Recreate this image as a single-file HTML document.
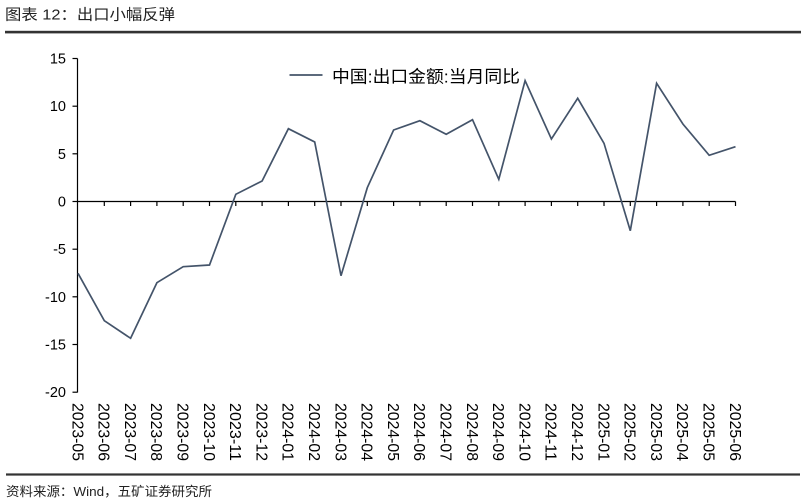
<!DOCTYPE html>
<html>
<head>
<meta charset="utf-8">
<style>
html,body{margin:0;padding:0;background:#fff;}
svg{display:block;}
text{font-family:"Liberation Sans","Noto Sans CJK SC",sans-serif;}
</style>
</head>
<body>
<svg width="806" height="503" viewBox="0 0 806 503" xmlns="http://www.w3.org/2000/svg">
  <rect width="806" height="503" fill="#fff"/>
  <!-- Title -->
  <text x="5" y="19.5" font-size="15" fill="#222" textLength="170" lengthAdjust="spacingAndGlyphs">图表 12：出口小幅反弹</text>
  <rect x="5" y="30.8" width="796" height="2.6" fill="#333"/>

  <!-- Y axis -->
  <line x1="77.5" y1="58.5" x2="77.5" y2="392.5" stroke="#000" stroke-width="1.2"/>
  <g stroke="#000" stroke-width="1.2">
    <line x1="72.5" y1="58.5" x2="77.5" y2="58.5"/>
    <line x1="72.5" y1="106.2" x2="77.5" y2="106.2"/>
    <line x1="72.5" y1="153.8" x2="77.5" y2="153.8"/>
    <line x1="72.5" y1="201.5" x2="77.5" y2="201.5"/>
    <line x1="72.5" y1="249.2" x2="77.5" y2="249.2"/>
    <line x1="72.5" y1="296.8" x2="77.5" y2="296.8"/>
    <line x1="72.5" y1="344.5" x2="77.5" y2="344.5"/>
    <line x1="72.5" y1="392.2" x2="77.5" y2="392.2"/>
  </g>
  <g font-size="14.5" fill="#000" text-anchor="end">
    <text x="66" y="63.5">15</text>
    <text x="66" y="111.2">10</text>
    <text x="66" y="158.8">5</text>
    <text x="66" y="206.5">0</text>
    <text x="66" y="254.2">-5</text>
    <text x="66" y="301.8">-10</text>
    <text x="66" y="349.5">-15</text>
    <text x="66" y="397.2">-20</text>
  </g>

  <!-- Zero line with ticks -->
  <line x1="77.5" y1="201.5" x2="735.5" y2="201.5" stroke="#000" stroke-width="1.2"/>
  <g stroke="#000" stroke-width="1.2">
    <line x1="104.3" y1="201.5" x2="104.3" y2="206"/>
    <line x1="130.6" y1="201.5" x2="130.6" y2="206"/>
    <line x1="156.9" y1="201.5" x2="156.9" y2="206"/>
    <line x1="183.2" y1="201.5" x2="183.2" y2="206"/>
    <line x1="209.5" y1="201.5" x2="209.5" y2="206"/>
    <line x1="235.8" y1="201.5" x2="235.8" y2="206"/>
    <line x1="262.1" y1="201.5" x2="262.1" y2="206"/>
    <line x1="288.4" y1="201.5" x2="288.4" y2="206"/>
    <line x1="314.7" y1="201.5" x2="314.7" y2="206"/>
    <line x1="341" y1="201.5" x2="341" y2="206"/>
    <line x1="367.3" y1="201.5" x2="367.3" y2="206"/>
    <line x1="393.6" y1="201.5" x2="393.6" y2="206"/>
    <line x1="419.9" y1="201.5" x2="419.9" y2="206"/>
    <line x1="446.2" y1="201.5" x2="446.2" y2="206"/>
    <line x1="472.5" y1="201.5" x2="472.5" y2="206"/>
    <line x1="498.8" y1="201.5" x2="498.8" y2="206"/>
    <line x1="525.1" y1="201.5" x2="525.1" y2="206"/>
    <line x1="551.4" y1="201.5" x2="551.4" y2="206"/>
    <line x1="577.7" y1="201.5" x2="577.7" y2="206"/>
    <line x1="604" y1="201.5" x2="604" y2="206"/>
    <line x1="630.3" y1="201.5" x2="630.3" y2="206"/>
    <line x1="656.6" y1="201.5" x2="656.6" y2="206"/>
    <line x1="682.9" y1="201.5" x2="682.9" y2="206"/>
    <line x1="709.2" y1="201.5" x2="709.2" y2="206"/>
    <line x1="735.5" y1="201.5" x2="735.5" y2="206"/>
  </g>

  <!-- Data series -->
  <polyline fill="none" stroke="#44546A" stroke-width="1.7" stroke-linejoin="miter"
    points="78,273.3 104.3,320.7 130.6,338.3 156.9,282.7 183.2,266.7 209.5,265 235.8,194.3 262.1,181 288.4,128.7 314.7,142 341,275.7 367.3,187.7 393.6,130 419.9,120.7 446.2,134.3 472.5,119.7 498.8,179.3 525.1,80.7 551.4,139 577.7,98.3 604,143.3 630.3,230.7 656.6,83.3 682.9,124 709.2,155.3 735.5,146.7"/>

  <!-- Legend -->
  <line x1="289.5" y1="75" x2="322.5" y2="75" stroke="#44546A" stroke-width="1.7"/>
  <text x="332" y="82.5" font-size="17" fill="#000" textLength="188" lengthAdjust="spacingAndGlyphs">中国:出口金额:当月同比</text>

  <!-- X labels -->
  <g font-size="16" fill="#000">
    <text transform="translate(72.3,403) rotate(90)" textLength="58" lengthAdjust="spacingAndGlyphs">2023-05</text>
    <text transform="translate(98.6,403) rotate(90)" textLength="58" lengthAdjust="spacingAndGlyphs">2023-06</text>
    <text transform="translate(124.9,403) rotate(90)" textLength="58" lengthAdjust="spacingAndGlyphs">2023-07</text>
    <text transform="translate(151.2,403) rotate(90)" textLength="58" lengthAdjust="spacingAndGlyphs">2023-08</text>
    <text transform="translate(177.5,403) rotate(90)" textLength="58" lengthAdjust="spacingAndGlyphs">2023-09</text>
    <text transform="translate(203.8,403) rotate(90)" textLength="58" lengthAdjust="spacingAndGlyphs">2023-10</text>
    <text transform="translate(230.1,403) rotate(90)" textLength="58" lengthAdjust="spacingAndGlyphs">2023-11</text>
    <text transform="translate(256.4,403) rotate(90)" textLength="58" lengthAdjust="spacingAndGlyphs">2023-12</text>
    <text transform="translate(282.7,403) rotate(90)" textLength="58" lengthAdjust="spacingAndGlyphs">2024-01</text>
    <text transform="translate(309,403) rotate(90)" textLength="58" lengthAdjust="spacingAndGlyphs">2024-02</text>
    <text transform="translate(335.3,403) rotate(90)" textLength="58" lengthAdjust="spacingAndGlyphs">2024-03</text>
    <text transform="translate(361.6,403) rotate(90)" textLength="58" lengthAdjust="spacingAndGlyphs">2024-04</text>
    <text transform="translate(387.9,403) rotate(90)" textLength="58" lengthAdjust="spacingAndGlyphs">2024-05</text>
    <text transform="translate(414.2,403) rotate(90)" textLength="58" lengthAdjust="spacingAndGlyphs">2024-06</text>
    <text transform="translate(440.5,403) rotate(90)" textLength="58" lengthAdjust="spacingAndGlyphs">2024-07</text>
    <text transform="translate(466.8,403) rotate(90)" textLength="58" lengthAdjust="spacingAndGlyphs">2024-08</text>
    <text transform="translate(493.1,403) rotate(90)" textLength="58" lengthAdjust="spacingAndGlyphs">2024-09</text>
    <text transform="translate(519.4,403) rotate(90)" textLength="58" lengthAdjust="spacingAndGlyphs">2024-10</text>
    <text transform="translate(545.7,403) rotate(90)" textLength="58" lengthAdjust="spacingAndGlyphs">2024-11</text>
    <text transform="translate(572,403) rotate(90)" textLength="58" lengthAdjust="spacingAndGlyphs">2024-12</text>
    <text transform="translate(598.3,403) rotate(90)" textLength="58" lengthAdjust="spacingAndGlyphs">2025-01</text>
    <text transform="translate(624.6,403) rotate(90)" textLength="58" lengthAdjust="spacingAndGlyphs">2025-02</text>
    <text transform="translate(650.9,403) rotate(90)" textLength="58" lengthAdjust="spacingAndGlyphs">2025-03</text>
    <text transform="translate(677.2,403) rotate(90)" textLength="58" lengthAdjust="spacingAndGlyphs">2025-04</text>
    <text transform="translate(703.5,403) rotate(90)" textLength="58" lengthAdjust="spacingAndGlyphs">2025-05</text>
    <text transform="translate(729.8,403) rotate(90)" textLength="58" lengthAdjust="spacingAndGlyphs">2025-06</text>
  </g>

  <!-- Bottom rule and source -->
  <rect x="6" y="473.4" width="794" height="2.2" fill="#333"/>
  <text x="6" y="496" font-size="13" fill="#222" textLength="206" lengthAdjust="spacingAndGlyphs">资料来源：Wind，五矿证券研究所</text>
</svg>
</body>
</html>
